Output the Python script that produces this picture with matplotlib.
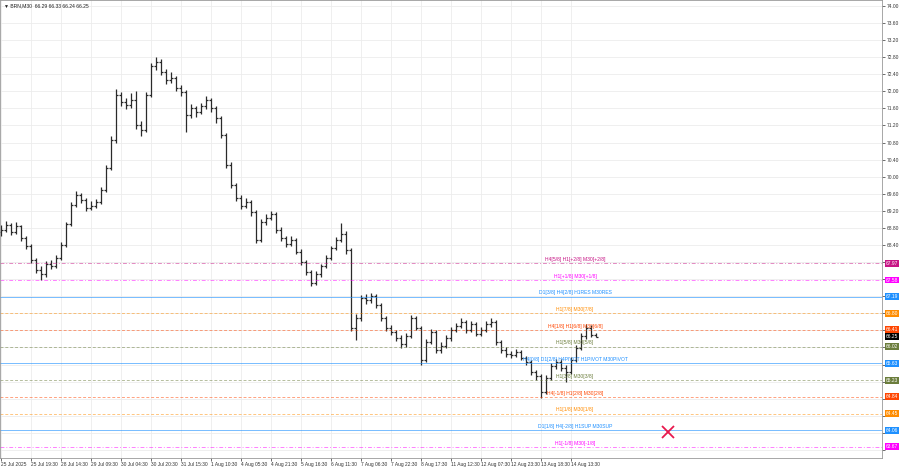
import matplotlib.pyplot as plt
import numpy as np

# M30 bars (sampled), open of each bar is the previous close
first_open = 68.70
closes = [68.75, 68.87, 68.71, 68.85, 68.57, 68.38, 68.05, 67.82, 67.72, 67.96,
          67.91, 68.10, 68.40, 68.89, 69.34, 69.57, 69.46, 69.27, 69.32, 69.41,
          69.69, 70.21, 70.86, 71.92, 71.75, 71.68, 71.80, 71.21, 71.10, 71.92,
          72.59, 72.69, 72.45, 72.27, 72.31, 72.08, 71.99, 71.45, 71.61, 71.52,
          71.66, 71.80, 71.61, 71.38, 70.98, 70.28, 69.81, 69.50, 69.32, 69.41,
          69.18, 68.52, 68.94, 69.04, 69.13, 68.75, 68.57, 68.43, 68.52, 68.24,
          68.00, 67.77, 67.51, 67.72, 67.91, 68.10, 68.33, 68.52, 68.66, 68.29,
          66.45, 66.69, 67.16, 67.11, 67.21, 67.00, 66.69, 66.46, 66.37, 66.22,
          66.08, 66.27, 66.69, 66.46, 65.71, 66.13, 66.37, 65.94, 66.04, 66.22,
          66.41, 66.51, 66.60, 66.41, 66.55, 66.32, 66.41, 66.55, 66.60, 66.13,
          65.94, 65.85, 65.83, 65.90, 65.76, 65.66, 65.43, 65.33, 64.96, 65.29,
          65.57, 65.66, 65.52, 65.43, 65.71, 65.99, 66.27, 66.46, 66.29, 66.25]
highs = [68.86, 68.96, 68.92, 68.94, 68.88, 68.62, 68.43, 68.10, 67.90, 68.03,
         68.05, 68.16, 68.46, 68.95, 69.40, 69.66, 69.62, 69.50, 69.42, 69.48,
         69.75, 70.28, 70.95, 72.05, 71.98, 71.85, 71.95, 72.00, 71.30, 71.98,
         72.66, 72.80, 72.76, 72.52, 72.45, 72.36, 72.14, 72.04, 71.70, 71.66,
         71.72, 71.88, 71.85, 71.66, 71.42, 71.02, 70.34, 69.86, 69.56, 69.50,
         69.46, 69.22, 69.00, 69.12, 69.20, 69.18, 68.82, 68.62, 68.60, 68.56,
         68.30, 68.05, 67.82, 67.78, 67.96, 68.16, 68.38, 68.58, 68.92, 68.72,
         68.32, 66.78, 67.22, 67.25, 67.28, 67.26, 67.05, 66.74, 66.52, 66.42,
         66.28, 66.34, 66.76, 66.74, 66.50, 66.20, 66.44, 66.40, 66.12, 66.28,
         66.48, 66.58, 66.68, 66.65, 66.62, 66.60, 66.48, 66.62, 66.68, 66.64,
         66.18, 66.00, 65.92, 65.96, 65.95, 65.80, 65.70, 65.48, 65.38, 65.36,
         65.64, 65.74, 65.72, 65.58, 65.78, 66.05, 66.34, 66.55, 66.52, 66.33]
lows = [68.62, 68.70, 68.63, 68.66, 68.50, 68.30, 67.98, 67.74, 67.58, 67.66,
        67.84, 67.86, 68.05, 68.35, 68.84, 69.28, 69.38, 69.20, 69.22, 69.26,
        69.36, 69.64, 70.15, 70.80, 71.66, 71.58, 71.62, 71.12, 70.95, 71.05,
        71.86, 72.50, 72.38, 72.18, 72.20, 72.00, 71.90, 71.05, 71.38, 71.40,
        71.46, 71.58, 71.52, 71.25, 70.90, 70.20, 69.74, 69.42, 69.24, 69.26,
        69.08, 68.45, 68.48, 68.88, 68.98, 68.68, 68.50, 68.36, 68.38, 68.18,
        67.92, 67.70, 67.44, 67.47, 67.66, 67.86, 68.04, 68.28, 68.48, 68.20,
        66.38, 66.18, 66.62, 67.02, 67.05, 66.92, 66.62, 66.38, 66.28, 66.14,
        65.98, 66.02, 66.22, 66.40, 65.58, 65.66, 66.08, 65.86, 65.88, 65.98,
        66.16, 66.36, 66.46, 66.34, 66.36, 66.26, 66.26, 66.36, 66.48, 66.06,
        65.86, 65.78, 65.76, 65.78, 65.70, 65.58, 65.36, 65.24, 64.82, 64.90,
        65.24, 65.50, 65.45, 65.20, 65.38, 65.66, 65.94, 66.20, 66.24, 66.24]
opens = [first_open] + closes[:-1]

tick_labels = ["25 Jul 2025", "25 Jul 19:30", "28 Jul 14:30", "29 Jul 09:30",
               "30 Jul 04:30", "30 Jul 20:30", "31 Jul 15:30", "1 Aug 10:30",
               "4 Aug 05:30", "4 Aug 21:30", "5 Aug 16:30", "6 Aug 11:30",
               "7 Aug 06:30", "7 Aug 22:30", "8 Aug 17:30", "11 Aug 12:30",
               "12 Aug 07:30", "12 Aug 23:30", "13 Aug 18:30", "14 Aug 13:30"]

# Murrey math levels
levels = [67.97, 67.58, 67.19, 66.80, 66.41, 66.02, 65.63, 65.23, 64.84, 64.45, 64.06, 63.67]
level_notes = ["H4[5/8] H1[+2/8] M30[+2/8]", "H1[+1/8] M30[+1/8]",
               "D1[3/8] H4[2/8] H1RES M30RES", "H1[7/8] M30[7/8]",
               "H4[1/8] H1[6/8] M30[6/8]", "H1[5/8] M30[5/8]",
               "H4[0/8] D1[2/8] H4PIVOT H1PIVOT M30PIVOT", "H1[3/8] M30[3/8]",
               "H4[-1/8] H1[2/8] M30[2/8]", "H1[1/8] M30[1/8]",
               "D1[1/8] H4[-2/8] H1SUP M30SUP", "H1[-1/8] M30[-1/8]"]
level_colors = ["#c71585", "#ff00ff", "#1e90ff", "#ff8c00", "#ff4500", "#6b7d3c",
                "#1e90ff", "#6b7d3c", "#ff4500", "#ff8c00", "#1e90ff", "#ff00ff"]
level_styles = ["dd", "dd", "solid", "dash", "dash", "dash",
                "solid", "dash", "dash", "dash", "solid", "dd"]

cross_x = 133.4
cross_y = 64.02

FONT = ["Liberation Sans", "DejaVu Sans"]
plt.rcParams["font.family"] = FONT

fig = plt.figure(figsize=(9, 4.68), dpi=100)
ax = fig.add_axes([0, 10 / 468, 882 / 900, 458 / 468])

x = np.arange(len(closes))
bar_col = "#2a2a2a"
ax.vlines(x, lows, highs, color=bar_col, lw=0.9)
ax.hlines(opens, x - 0.45, x, color=bar_col, lw=0.9)
ax.hlines(closes, x, x + 0.45, color=bar_col, lw=0.9)

ax.set_xlim(-0.2, 176.2)
ax.set_ylim(63.41, 74.14)

# grid and ticks; price labels hidden where a level box sits on top
yt = np.arange(63.6, 74.01, 0.4)
ax.set_yticks(yt)
ax.set_yticklabels(["" if min(abs(v - l) for l in levels + [closes[-1]]) < 0.15 else f"{v:.2f}"
                    for v in yt])
xt = np.arange(0, len(closes), 6)
ax.set_xticks(xt)
ax.set_xticklabels(tick_labels, ha="left")
ax.grid(True, color="#ececec", lw=0.6)
ax.set_axisbelow(True)
ax.yaxis.tick_right()
ax.tick_params(axis="both", labelsize=3.5, colors="#333333", length=2, width=0.5, pad=1.5)
ax.tick_params(axis="x", pad=1)
for s in ax.spines.values():
    s.set_color("#999999")
    s.set_linewidth(0.6)

dash_map = {"dd": (0, (4, 2, 1, 2)), "dash": (0, (3, 2)), "solid": "-"}
for lv, note, col, st in zip(levels, level_notes, level_colors, level_styles):
    ax.axhline(lv, color=col, lw=0.7, ls=dash_map[st], alpha=0.5 if st != "solid" else 0.6)
    ax.text(114.8, lv + 0.03, note, color=col, fontsize=3.6, ha="center", va="bottom")
    ax.annotate(f"{lv:.2f}", xy=(1.004, lv), xycoords=("axes fraction", "data"),
                ha="left", va="center", fontsize=3.5, color="white",
                bbox=dict(boxstyle="square,pad=0.2", fc=col, ec="none"))

ax.annotate(f"{closes[-1]:.2f}", xy=(1.004, closes[-1]), xycoords=("axes fraction", "data"),
            ha="left", va="center", fontsize=3.5, color="white",
            bbox=dict(boxstyle="square,pad=0.2", fc="black", ec="none"))

ax.plot(cross_x, cross_y, marker="x", ms=8.5, mew=1.3, color="#e8194d", ls="none")

header = f"\u25bc BRN,M30  {opens[-1]:.2f} {highs[-1]:.2f} {lows[-1]:.2f} {closes[-1]:.2f}"
fig.text(0.004, 0.994, header, fontsize=3.6, va="top", ha="left", color="#222222", family=FONT)

fig.savefig("out.png", dpi=100)
